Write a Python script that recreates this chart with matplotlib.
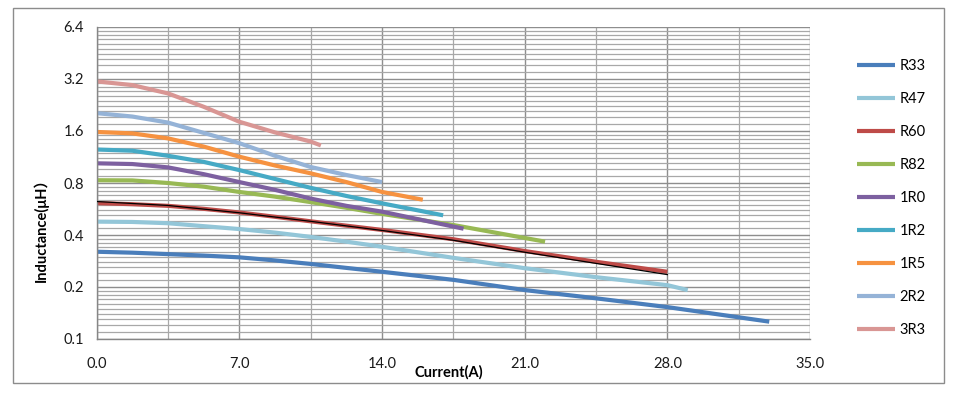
import matplotlib
matplotlib.use("Agg")
import matplotlib.pyplot as plt
from matplotlib.patches import Rectangle
from matplotlib.ticker import FixedLocator, NullFormatter

plt.rcParams['font.family'] = ['Lato', 'Noto Sans CJK SC', 'DejaVu Sans']

# ---- data (current A, inductance uH) ----
names = ["R33", "R47", "R60", "R82", "1R0", "1R2", "1R5", "2R2", "3R3"]
colors = ["#4A7EBB", "#93C6D8", "#BE4B48", "#98B954", "#7D60A0",
          "#46AAC5", "#F69240", "#95B3D7", "#D99694"]

x_r33 = [0, 1.75, 3.5, 5.25, 7, 8.75, 10.5, 12.25, 14, 17.5, 21, 24.5, 28, 33]
y_r33 = [0.320, 0.316, 0.310, 0.304, 0.297, 0.285, 0.272, 0.258, 0.245, 0.220,
         0.192, 0.172, 0.153, 0.126]

x_r47 = [0, 1.75, 3.5, 5.25, 7, 8.75, 10.5, 12.25, 14, 17.5, 21, 24.5, 28, 29]
y_r47 = [0.478, 0.476, 0.468, 0.450, 0.433, 0.413, 0.390, 0.366, 0.342, 0.295,
         0.257, 0.228, 0.205, 0.192]

x_r60 = [0, 1.75, 3.5, 5.25, 7, 8.75, 10.5, 12.25, 14, 17.5, 21, 24.5, 28]
y_r60 = [0.612, 0.603, 0.590, 0.567, 0.540, 0.510, 0.480, 0.453, 0.428, 0.378,
         0.323, 0.280, 0.245]

x_ref = [0, 3.5, 7, 10.5, 14, 17.5, 21, 24.5, 28]
y_ref = [0.625, 0.593, 0.538, 0.480, 0.425, 0.373, 0.318, 0.274, 0.236]

x_r82 = [0, 1.75, 3.5, 5.25, 7, 8.75, 10.5, 12.25, 14, 17.5, 22]
y_r82 = [0.830, 0.828, 0.800, 0.762, 0.710, 0.667, 0.620, 0.575, 0.530, 0.457, 0.366]

x_1r0 = [0, 1.75, 3.5, 5.25, 7, 8.75, 10.5, 12.25, 14, 18]
y_1r0 = [1.040, 1.030, 0.985, 0.900, 0.810, 0.730, 0.650, 0.590, 0.546, 0.435]

x_1r2 = [0, 1.75, 3.5, 5.25, 7, 8.75, 10.5, 12.25, 14, 17]
y_1r2 = [1.250, 1.230, 1.150, 1.060, 0.950, 0.844, 0.750, 0.673, 0.610, 0.520]

x_1r5 = [0, 1.75, 3.5, 5.25, 7, 8.75, 10.5, 12.25, 14, 16]
y_1r5 = [1.580, 1.550, 1.450, 1.300, 1.136, 1.010, 0.910, 0.810, 0.710, 0.640]

x_2r2 = [0, 1.75, 3.5, 5.25, 7, 8.75, 10.5, 12.25, 14]
y_2r2 = [2.030, 1.940, 1.790, 1.560, 1.360, 1.150, 0.990, 0.890, 0.810]

x_3r3 = [0, 1.75, 3.5, 5.25, 7, 8.75, 10.5, 11]
y_3r3 = [3.100, 2.950, 2.640, 2.210, 1.810, 1.570, 1.390, 1.320]

series_x = [x_r33, x_r47, x_r60, x_r82, x_1r0, x_1r2, x_1r5, x_2r2, x_3r3]
series_y = [y_r33, y_r47, y_r60, y_r82, y_1r0, y_1r2, y_1r5, y_2r2, y_3r3]

x_ticks = [0.0, 7.0, 14.0, 21.0, 28.0, 35.0]
y_ticks = [0.1, 0.2, 0.4, 0.8, 1.6, 3.2, 6.4]

W, H = 956, 395
fig = plt.figure(figsize=(W / 100, H / 100), dpi=100)
fig.patch.set_facecolor("white")
fig.patches.append(Rectangle((12.7 / W, 1 - 382.7 / H), (944 - 12.7) / W, (382.7 - 8.3) / H,
                             transform=fig.transFigure, fill=False,
                             edgecolor="#8C8C8C", lw=1.0, zorder=0))

ax = fig.add_axes([96.7 / W, 1 - 339 / H, (810 - 96.7) / W, 312 / H])
ax.set_yscale("log", base=2)
ax.set_ylim(0.1, 6.4)
ax.set_xlim(0, 35)

# gridlines
minor_y = []
for m in y_ticks[:-1]:
    minor_y += [m * (1 + k / 10) for k in range(1, 10)]
ax.yaxis.set_major_locator(FixedLocator(y_ticks))
ax.yaxis.set_minor_locator(FixedLocator(minor_y))
ax.yaxis.set_minor_formatter(NullFormatter())
ax.set_yticklabels([f"{v:.1f}" for v in y_ticks])
ax.xaxis.set_major_locator(FixedLocator(x_ticks))
ax.xaxis.set_minor_locator(FixedLocator([3.5 + 7 * i for i in range(5)]))
ax.set_xticklabels([f"{v:.1f}" for v in x_ticks])

ax.grid(which="major", color="#8E8E8E", lw=1.0)
ax.grid(which="minor", color="#A8A8A8", lw=0.9)
ax.set_axisbelow(True)
ax.tick_params(which="both", length=0)
ax.tick_params(axis="y", pad=9, labelsize=10.5, labelcolor="#1a1a1a")
ax.tick_params(axis="x", pad=13, labelsize=10.5, labelcolor="#1a1a1a")
for s in ["top", "right"]:
    ax.spines[s].set_visible(False)
for s in ["left", "bottom"]:
    ax.spines[s].set_color("#868686")
    ax.spines[s].set_linewidth(1.0)

for xs, ys, c, n in zip(series_x, series_y, colors, names):
    ax.plot(xs, ys, color=c, lw=3.0, label=n, solid_capstyle="butt",
            solid_joinstyle="round")
ax.plot(x_ref, y_ref, color="black", lw=0.9, zorder=3)

handles, labels = ax.get_legend_handles_labels()
fig.legend(handles, labels, loc="center left", bbox_to_anchor=(857 / W, 1 - 198 / H),
           frameon=False, fontsize=10.5, handlelength=2.6, handletextpad=0.3,
           labelspacing=1.3, borderpad=0, borderaxespad=0)

fig.text(449 / W, 1 - 372 / H, "Current(A)", ha="center", va="center",
         fontsize=10.5, fontweight="bold")
fig.text(41 / W, 1 - 226 / H, "Inductance(μH）", ha="center", va="center",
         rotation=90, fontsize=10.5, fontweight="bold")

fig.savefig("out.png", dpi=100)
